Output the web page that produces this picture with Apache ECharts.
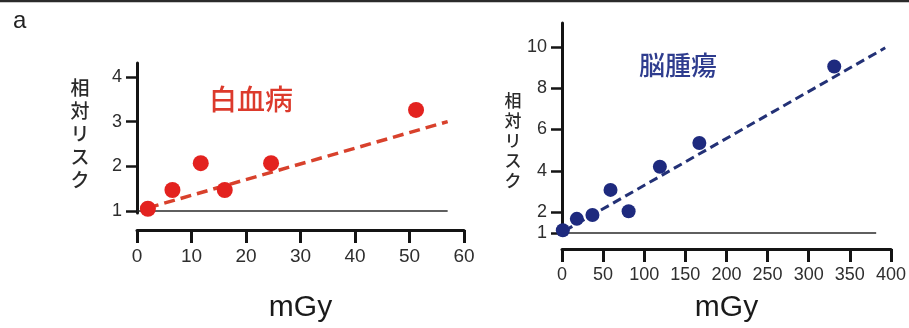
<!DOCTYPE html>
<html>
<head>
<meta charset="utf-8">
<script src="https://cdn.jsdelivr.net/npm/echarts@6/dist/echarts.min.js"></script>
<style>
  html, body { margin: 0; padding: 0; background: #fff; }
  #chart { width: 909px; height: 328px; }
</style>
</head>
<body>
<div id="chart"></div>
<script>
// Leukemia panel: relative risk vs dose (mGy)
const leukDose = [2, 6.5, 11.7, 16.1, 24.6, 51.2];
const leukRisk = [1.05, 1.47, 2.07, 1.47, 2.07, 3.26];
const leukTrendDose = [2, 57];
const leukTrendRisk = [1.07, 3.0];
const leukBaseDose = [0, 57];
const leukXTicks = [0, 10, 20, 30, 40, 50, 60];
const leukYTicks = [1, 2, 3, 4];

// Brain tumour panel
const brainDose = [1, 18, 37, 59, 81, 119, 167, 331];
const brainRisk = [1.13, 1.68, 1.87, 3.08, 2.05, 4.2, 5.35, 9.05];
const brainTrendDose = [3, 393];
const brainTrendRisk = [1.1, 9.95];
const brainBaseDose = [0, 382];
const brainXTicks = [0, 50, 100, 150, 200, 250, 300, 350, 400];
const brainYTicks = [1, 2, 4, 6, 8, 10];

const baseRisk = 1;
const yName = '相対リスク';
const xName = 'mGy';

const RED = '#e3221f';
const RED_LINE = '#d8412c';
const BLUE = '#1e2a7e';
const BLUE_LINE = '#233176';
const AXIS = '#141414';
const FONT = '"Liberation Sans", Arial, "Noto Sans CJK JP", sans-serif';
const CJK = '"Noto Sans CJK JP", sans-serif';

const pairs = (xs, ys) => xs.map((x, i) => [x, ys[i]]);

function xAxisCfg(gridIndex, max, interval, offset, fontSize, nameGap) {
  return {
    type: 'value', gridIndex, min: 0, max, interval, offset,
    axisLine: { show: true, lineStyle: { color: AXIS, width: 3 } },
    axisTick: { show: true, length: 13, lineStyle: { color: AXIS, width: 3 } },
    axisLabel: { fontSize, color: '#2e2e2e', margin: 17, fontFamily: FONT },
    splitLine: { show: false },
    name: xName, nameLocation: 'middle', nameGap,
    nameTextStyle: { fontSize: 30, color: '#1a1a1a', fontFamily: FONT }
  };
}

function yAxisCfg(gridIndex, min, max, ticks, fontSize) {
  return {
    type: 'value', gridIndex, min, max,
    axisLine: { show: true, lineStyle: { color: AXIS, width: 3 } },
    axisTick: { show: true, length: 11, customValues: ticks, lineStyle: { color: AXIS, width: 2.5 } },
    axisLabel: { fontSize, color: '#2e2e2e', margin: 15, customValues: ticks, fontFamily: FONT },
    splitLine: { show: false }
  };
}

const chart = echarts.init(document.getElementById('chart'), null, { renderer: 'canvas' });

chart.setOption({
  animation: false,
  backgroundColor: '#ffffff',
  grid: [
    { left: 137, top: 63, width: 327, height: 150 },
    { left: 562, top: 23, width: 331, height: 212 }
  ],
  xAxis: [
    xAxisCfg(0, leukXTicks[leukXTicks.length - 1], leukXTicks[1] - leukXTicks[0], 17, 19, 63),
    xAxisCfg(1, brainXTicks[brainXTicks.length - 1], brainXTicks[1] - brainXTicks[0], 14, 18, 44)
  ],
  yAxis: [
    yAxisCfg(0, 0.955, 4.31, leukYTicks, 18),
    yAxisCfg(1, 0.9, 11.15, brainYTicks, 18)
  ],
  series: [
    {
      type: 'line', xAxisIndex: 0, yAxisIndex: 0, symbol: 'none', silent: true,
      data: pairs(leukBaseDose, leukBaseDose.map(() => baseRisk)),
      lineStyle: { color: '#2a2a2a', width: 1.5 }, z: 1
    },
    {
      type: 'line', xAxisIndex: 0, yAxisIndex: 0, symbol: 'none', silent: true,
      data: pairs(leukTrendDose, leukTrendRisk),
      lineStyle: { color: RED_LINE, width: 3.5, type: [11, 6] }, z: 2
    },
    {
      type: 'scatter', xAxisIndex: 0, yAxisIndex: 0, symbolSize: 16,
      data: pairs(leukDose, leukRisk),
      itemStyle: { color: RED, opacity: 1 }, z: 3
    },
    {
      type: 'line', xAxisIndex: 1, yAxisIndex: 1, symbol: 'none', silent: true,
      data: pairs(brainBaseDose, brainBaseDose.map(() => baseRisk)),
      lineStyle: { color: '#2a2a2a', width: 1.5 }, z: 1
    },
    {
      type: 'line', xAxisIndex: 1, yAxisIndex: 1, symbol: 'none', silent: true,
      data: pairs(brainTrendDose, brainTrendRisk),
      lineStyle: { color: BLUE_LINE, width: 3, type: [9, 5] }, z: 2
    },
    {
      type: 'scatter', xAxisIndex: 1, yAxisIndex: 1, symbolSize: 14,
      data: pairs(brainDose, brainRisk),
      itemStyle: { color: BLUE, opacity: 1 }, z: 3
    }
  ],
  graphic: [
    { type: 'line', shape: { x1: 0, y1: 1, x2: 909, y2: 1 }, style: { stroke: '#2b2b2b', lineWidth: 2.5 } },
    { type: 'text', left: 13, top: 9, style: { text: 'a', font: '24px ' + FONT, fill: '#222' } },
    { type: 'text', x: 251, y: 99, style: { text: '白血病', font: '500 28px ' + CJK, fill: '#dc3a2c', align: 'center', verticalAlign: 'middle' } },
    { type: 'text', x: 678, y: 65, style: { text: '脳腫瘍', font: '500 26px ' + CJK, fill: '#2e3c8e', align: 'center', verticalAlign: 'middle' } },
    { type: 'text', x: 80, y: 134, style: { text: yName.split('').join('\n'), font: '500 19px ' + CJK, lineHeight: 23, fill: '#2a2a2a', align: 'center', verticalAlign: 'middle' } },
    { type: 'text', x: 513, y: 141, style: { text: yName.split('').join('\n'), font: '500 17px ' + CJK, lineHeight: 20, fill: '#2a2a2a', align: 'center', verticalAlign: 'middle' } }
  ]
});
</script>
</body>
</html>
